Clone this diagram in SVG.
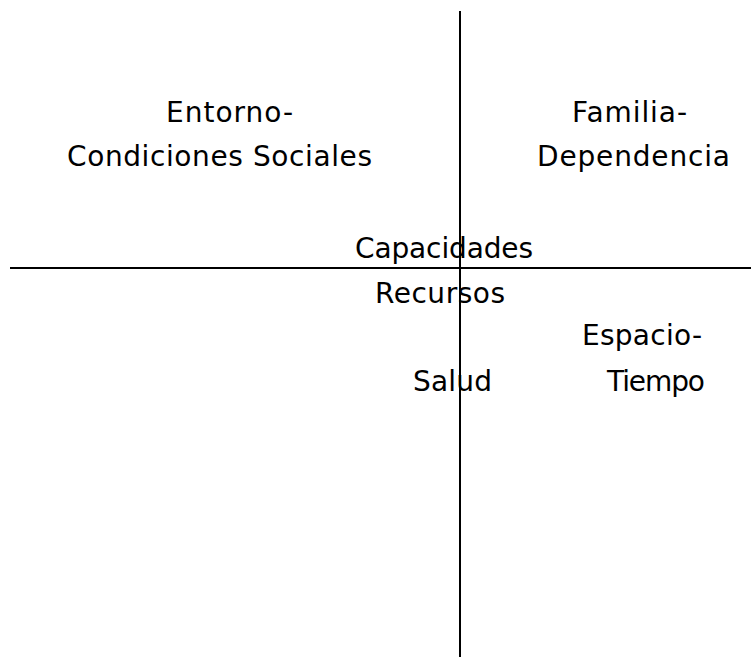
<svg xmlns="http://www.w3.org/2000/svg" width="751" height="657" viewBox="0 0 751 657">
<style>
.t{font-family:"DejaVu Sans","Liberation Sans",sans-serif;font-size:28px;fill:#000}
.ax{stroke:#000;stroke-width:2;fill:none}
</style>
<rect width="751" height="657" fill="#fff"/>
<g id="connectors">
<line class="ax" x1="10" y1="268" x2="751" y2="268"/>
<line class="ax" x1="460" y1="11" x2="460" y2="657"/>
</g>
<g id="entorno">
<text class="t" x="166" y="122" textLength="127">Entorno-</text>
<text class="t" x="67" y="166" textLength="305">Condiciones Sociales</text>
</g>
<g id="familia">
<text class="t" x="572" y="122" textLength="115">Familia-</text>
<text class="t" x="537" y="166" textLength="193">Dependencia</text>
</g>
<g id="capacidades">
<text class="t" x="355" y="258" textLength="178">Capacidades</text>
</g>
<g id="recursos">
<text class="t" x="375" y="303" textLength="130">Recursos</text>
</g>
<g id="espacio">
<text class="t" x="582" y="345" textLength="120">Espacio-</text>
<text class="t" x="607" y="391" textLength="98">Tiempo</text>
</g>
<g id="salud">
<text class="t" x="413" y="391" textLength="79">Salud</text>
</g>
</svg>
